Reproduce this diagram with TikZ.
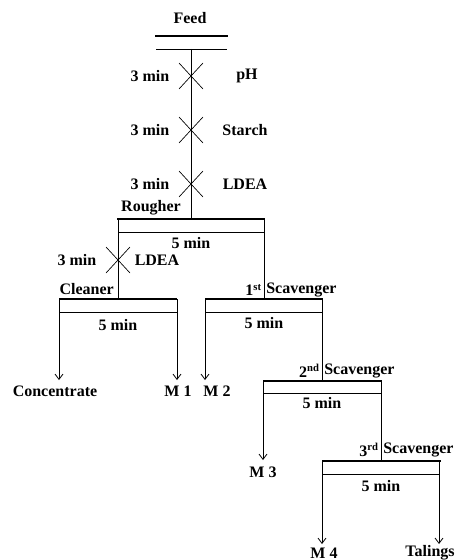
\documentclass[tikz,border=0pt]{standalone}
\usepackage{fontspec}
\setmainfont{Liberation Serif}
\usetikzlibrary{arrows.meta}

\tikzset{
  lbl/.style={font=\bfseries\fontsize{12}{14}\selectfont,inner sep=0pt},
  thickbar/.style={line width=2.2pt},
  thinbar/.style={line width=0.6pt},
  flow/.style={line width=0.6pt},
  outflow/.style={line width=0.6pt,-{Straight Barb[length=4pt,width=6pt]}},
  cross/.style={line width=0.5pt},
}

\begin{document}
\begin{tikzpicture}[x=0.75pt,y=-0.75pt]
      \useasboundingbox (0,0) rectangle (458,560) ;
      % feed
      \node[lbl] (feed) at (190,18) {Feed} ;
      \draw[thickbar] (155,36)--(228,36) ;
      \coordinate (F) at (191,49) ;
      \draw[thinbar] (156,49)--(227,49) ;
      % rougher cell
      \coordinate (R) at (191,219) ;
      \coordinate (Rl) at (118,219) ;
      \coordinate (Rr) at (264,219) ;
      \draw[thickbar] (117,219)--(265,219) ;
      \draw[thinbar] (118,232)--(264,232) ;
      \node[lbl] (rough) at (151,208) {Rougher} ;
      \node[lbl] (rtime) at (191,243) {5 min} ;
      \draw[flow] (F)--(R) ;
      % conditioning on the feed line
      \draw[cross] (179,63)--(203,89) (179,89)--(203,63) ;
      \node[lbl] (t1) at (150,76) {3 min} ;
      \node[lbl] (ph) at (247,76) {pH} ;
      \draw[cross] (179,117)--(203,143) (179,143)--(203,117) ;
      \node[lbl] (t2) at (150,130) {3 min} ;
      \node[lbl] (starch) at (245,130) {Starch} ;
      \draw[cross] (179,171)--(203,197) (179,197)--(203,171) ;
      \node[lbl] (t3) at (150,184) {3 min} ;
      \node[lbl] (ldea1) at (245,184) {LDEA} ;
      % cleaner cell
      \coordinate (C) at (118,299) ;
      \coordinate (Cl) at (59,299) ;
      \coordinate (Cr) at (177,299) ;
      \draw[thickbar] (59,299)--(177,299) ;
      \draw[thinbar] (59,312)--(177,312) ;
      \node[lbl,anchor=east] (clean) at (114,289) {Cleaner} ;
      \node[lbl] (ctime) at (118,325) {5 min} ;
      \draw[flow] (Rl)--(C) ;
      \draw[cross] (106,247)--(130,273) (106,273)--(130,247) ;
      \node[lbl] (t4) at (77,260) {3 min} ;
      \node[lbl] (ldea2) at (157,260) {LDEA} ;
      % 1st scavenger cell
      \coordinate (S1) at (264,299) ;
      \coordinate (S1l) at (205,299) ;
      \coordinate (S1r) at (322,299) ;
      \draw[thickbar] (205,299)--(323,299) ;
      \draw[thinbar] (205,312)--(323,312) ;
      \node[lbl,anchor=east] (s1a) at (262,290) {1\textsuperscript{st}} ;
      \node[lbl,anchor=west] (s1b) at (266,290) {Scavenger} ;
      \node[lbl] (s1time) at (264,323) {5 min} ;
      \draw[flow] (Rr)--(S1) ;
      % 2nd scavenger cell
      \coordinate (S2) at (322,381) ;
      \coordinate (S2l) at (263,381) ;
      \coordinate (S2r) at (381,381) ;
      \draw[thickbar] (263,381)--(382,381) ;
      \draw[thinbar] (263,393)--(382,393) ;
      \node[lbl,anchor=east] (s2a) at (320,371) {2\textsuperscript{nd}} ;
      \node[lbl,anchor=west] (s2b) at (324,371) {Scavenger} ;
      \node[lbl] (s2time) at (322,403) {5 min} ;
      \draw[flow] (S1r)--(S2) ;
      % 3rd scavenger cell
      \coordinate (S3) at (381,461) ;
      \coordinate (S3l) at (322,461) ;
      \coordinate (S3r) at (439,461) ;
      \draw[thickbar] (322,461)--(441,461) ;
      \draw[thinbar] (322,474)--(440,474) ;
      \node[lbl,anchor=east] (s3a) at (379,450) {3\textsuperscript{rd}} ;
      \node[lbl,anchor=west] (s3b) at (383,450) {Scavenger} ;
      \node[lbl] (s3time) at (381,486) {5 min} ;
      \draw[flow] (S2r)--(S3) ;
      % products
      \coordinate (conc) at (59,380) ;
      \coordinate (m1) at (177,380) ;
      \coordinate (m2) at (205,380) ;
      \coordinate (m3) at (263,460) ;
      \coordinate (m4) at (322,544) ;
      \coordinate (tail) at (439,544) ;
      \draw[outflow] (Cl)--(conc) ;
      \draw[outflow] (Cr)--(m1) ;
      \draw[outflow] (S1l)--(m2) ;
      \draw[outflow] (S2l)--(m3) ;
      \draw[outflow] (S3l)--(m4) ;
      \draw[outflow] (S3r)--(tail) ;
      \node[lbl] (concl) at (55,391) {Concentrate} ;
      \node[lbl] (m1l) at (178,391) {M 1} ;
      \node[lbl] (m2l) at (217,391) {M 2} ;
      \node[lbl] (m3l) at (263,472) {M 3} ;
      \node[lbl] (m4l) at (324,553) {M 4} ;
      \node[lbl] (taill) at (430,553) {Talings} ;
    \end{tikzpicture}
\end{document}
